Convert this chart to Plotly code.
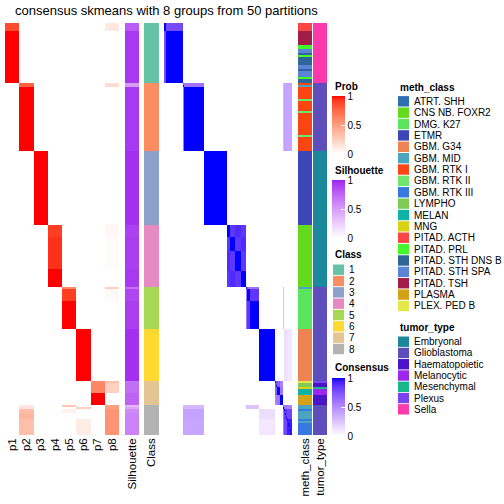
import numpy as np
import plotly.graph_objects as go

TITLE = "consensus skmeans with 8 groups from 50 partitions"
PROB_COLS = ["p1", "p2", "p3", "p4", "p5", "p6", "p7", "p8"]
CLASS_LEVELS = ["1", "2", "3", "4", "5", "6", "7", "8"]
CLASS_COLORS = ["#66C2A5", "#FC8D62", "#8DA0CB", "#E78AC3", "#A6D854", "#FFD92F", "#E5C494", "#B3B3B3"]
METH_LEVELS = ["ATRT. SHH", "CNS NB. FOXR2", "DMG. K27", "ETMR", "GBM. G34", "GBM. MID", "GBM. RTK I",
               "GBM. RTK II", "GBM. RTK III", "LYMPHO", "MELAN", "MNG", "PITAD. ACTH", "PITAD. PRL",
               "PITAD. STH DNS B", "PITAD. STH SPA", "PITAD. TSH", "PLASMA", "PLEX. PED B"]
METH_COLORS = ["#2E6EB4", "#63DB1C", "#5BE55E", "#3C46B9", "#EE8354", "#4BA5BE", "#FB4514",
               "#6EE66B", "#3779E0", "#7FCB55", "#0FB3A5", "#DAD216", "#FC4646", "#43F72B",
               "#31659A", "#5A84D8", "#A21E48", "#D4A217", "#E4E84B"]
TUMOR_LEVELS = ["Embryonal", "Glioblastoma", "Haematopoietic", "Melanocytic", "Mesenchymal", "Plexus", "Sella"]
TUMOR_COLORS = ["#1C889C", "#5D4EBB", "#4A14C8", "#9B27EE", "#18B88A", "#7B44F0", "#FC3AAB"]

# (number of samples, class, membership probabilities p1..p8, silhouette)
SAMPLE_SEGMENTS = [
    (4, 1, [0.85, 0, 0, 0, 0, 0, 0, 0.12], 0.80),
    (26, 1, [1, 0, 0, 0, 0, 0, 0, 0], 0.93),
    (2, 2, [0, 0.78, 0, 0, 0, 0, 0, 0.18], 0.50),
    (32, 2, [0, 1, 0, 0, 0, 0, 0, 0], 0.93),
    (37, 3, [0, 0, 1, 0, 0, 0, 0, 0], 0.96),
    (6, 4, [0, 0, 0, 0.90, 0, 0, 0, 0.04], 0.90),
    (16, 4, [0, 0, 0, 0.93, 0, 0, 0, 0.02], 0.91),
    (9, 4, [0, 0, 0, 1, 0, 0, 0, 0], 0.93),
    (1, 5, [0, 0, 0, 0, 0.60, 0, 0, 0.25], 0.70),
    (6, 5, [0, 0, 0, 0, 0.90, 0, 0, 0.03], 0.88),
    (14, 5, [0, 0, 0, 0, 1, 0, 0, 0], 0.91),
    (26, 6, [0, 0, 0, 0, 0, 1, 0, 0], 0.96),
    (1, 7, [0, 0, 0, 0, 0, 0, 0.60, 0.32], 0.68),
    (5, 7, [0, 0, 0, 0, 0, 0, 0.62, 0.25], 0.72),
    (6, 7, [0, 0, 0, 0, 0, 0, 1, 0], 0.76),
    (1, 8, [0, 0.12, 0, 0, 0.30, 0, 0, 0.50], 0.35),
    (1, 8, [0, 0.15, 0, 0, 0, 0.25, 0, 0.50], 0.45),
    (2, 8, [0, 0.35, 0, 0, 0.06, 0, 0, 0.55], 0.58),
    (3, 8, [0, 0.38, 0, 0, 0, 0, 0, 0.55], 0.62),
    (8, 8, [0, 0.33, 0, 0, 0, 0.10, 0, 0.55], 0.62),
]

METH_RUNS = [
    ("PITAD. ACTH", 4), ("PITAD. TSH", 7), ("PITAD. PRL", 2), ("PITAD. STH SPA", 2), ("PITAD. STH DNS B", 1),
    ("PITAD. PRL", 1), ("PITAD. STH DNS B", 4), ("PITAD. STH SPA", 2), ("PITAD. STH DNS B", 1),
    ("PITAD. STH SPA", 3), ("PITAD. PRL", 1), ("PITAD. STH DNS B", 2),
    ("GBM. RTK I", 1), ("GBM. MID", 1), ("GBM. RTK I", 6), ("GBM. RTK II", 1), ("GBM. RTK I", 5),
    ("GBM. RTK II", 1), ("GBM. RTK I", 11), ("GBM. RTK II", 1), ("GBM. RTK I", 7),
    ("ETMR", 37),
    ("CNS NB. FOXR2", 31),
    ("GBM. MID", 1), ("DMG. K27", 20),
    ("GBM. G34", 26),
    ("PLEX. PED B", 1), ("LYMPHO", 2), ("MNG", 1), ("MELAN", 3), ("PLASMA", 5),
    ("GBM. MID", 2), ("GBM. RTK III", 1), ("GBM. MID", 4), ("GBM. RTK III", 1), ("GBM. MID", 1),
    ("GBM. RTK III", 6),
]

TUMOR_RUNS = [
    ("Sella", 30), ("Glioblastoma", 34), ("Embryonal", 68), ("Glioblastoma", 47),
    ("Plexus", 1), ("Haematopoietic", 2), ("Mesenchymal", 1), ("Melanocytic", 3),
    ("Haematopoietic", 5), ("Glioblastoma", 15),
]

# consensus matrix described by sample groups (in row order) and block values
CONS_GROUP_SIZES = [4, 26, 2, 32, 37, 6, 7, 10, 8, 1, 6, 14, 26, 3, 4, 5, 2, 5, 8]
CONS_DIAG = [1, 1, 0.7, 1, 1, 1, 1, 1, 1, 1, 1, 1, 1, 0.75, 1, 1, 0.7, 0.85, 0.95]
CONS_PAIRS = [
    (0, 1, 0.78), (2, 3, 0.6),
    (5, 6, 0.86), (5, 7, 0.9), (5, 8, 0.86), (6, 7, 0.86), (6, 8, 0.9), (7, 8, 0.86),
    (9, 10, 0.6), (9, 11, 0.6), (10, 11, 0.86),
    (13, 14, 0.7), (13, 15, 0.55), (14, 15, 0.6),
    (16, 17, 0.6), (16, 18, 0.55), (17, 18, 0.8),
    (2, 16, 0.3), (2, 17, 0.4), (2, 18, 0.4), (3, 16, 0.3), (3, 17, 0.4), (3, 18, 0.38),
    (9, 16, 0.3), (10, 16, 0.25), (11, 16, 0.25),
    (12, 17, 0.14), (12, 18, 0.1),
]

# ---------------- build per-sample arrays ----------------
probs, sils, classes = [], [], []
for n, c, p, s in SAMPLE_SEGMENTS:
    for _ in range(n):
        probs.append(p)
        sils.append([s])
        classes.append([c - 1])
N = len(probs)
meth = []
for lab, n in METH_RUNS:
    meth += [[METH_LEVELS.index(lab)]] * n
tumor = []
for lab, n in TUMOR_RUNS:
    tumor += [[TUMOR_LEVELS.index(lab)]] * n

starts = np.cumsum([0] + CONS_GROUP_SIZES)
cons = np.zeros((N, N))
for g in range(len(CONS_GROUP_SIZES)):
    cons[starts[g]:starts[g + 1], starts[g]:starts[g + 1]] = CONS_DIAG[g]
for a, b, v in CONS_PAIRS:
    cons[starts[a]:starts[a + 1], starts[b]:starts[b + 1]] = v
    cons[starts[b]:starts[b + 1], starts[a]:starts[a + 1]] = v
np.fill_diagonal(cons, 1)


# ---------------- colour helpers (LAB interpolation like ComplexHeatmap) ----------------
def _hex(h):
    return [int(h[i:i + 2], 16) / 255 for i in (1, 3, 5)]


def _to_lab(h):
    rgb = [c / 12.92 if c <= 0.04045 else ((c + 0.055) / 1.055) ** 2.4 for c in _hex(h)]
    M = [[0.4124, 0.3576, 0.1805], [0.2126, 0.7152, 0.0722], [0.0193, 0.1192, 0.9505]]
    X, Y, Z = [sum(M[i][j] * rgb[j] for j in range(3)) for i in range(3)]
    X, Z = X / 0.95047, Z / 1.08883
    f = lambda t: t ** (1 / 3) if t > (6 / 29) ** 3 else t / (3 * (6 / 29) ** 2) + 4 / 29
    fx, fy, fz = f(X), f(Y), f(Z)
    return 116 * fy - 16, 500 * (fx - fy), 200 * (fy - fz)


def _from_lab(L, a, b):
    fy = (L + 16) / 116
    fx, fz = fy + a / 500, fy - b / 200
    finv = lambda t: t ** 3 if t > 6 / 29 else 3 * (6 / 29) ** 2 * (t - 4 / 29)
    X, Y, Z = finv(fx) * 0.95047, finv(fy), finv(fz) * 1.08883
    Mi = [[3.2406, -1.5372, -0.4986], [-0.9689, 1.8758, 0.0415], [0.0557, -0.2040, 1.0570]]
    out = []
    for i in range(3):
        c = Mi[i][0] * X + Mi[i][1] * Y + Mi[i][2] * Z
        c = 12.92 * c if c <= 0.0031308 else 1.055 * max(c, 0) ** (1 / 2.4) - 0.055
        out.append(int(round(min(max(c, 0), 1) * 255)))
    return "rgb(%d,%d,%d)" % tuple(out)


def lab_scale(c0, c1, n=21):
    l0, l1 = _to_lab(c0), _to_lab(c1)
    sc = []
    for t in np.linspace(0, 1, n):
        sc.append([float(t), _from_lab(*[l0[k] + (l1[k] - l0[k]) * t for k in range(3)])])
    return sc


def discrete_scale(colors):
    n = len(colors)
    sc = []
    for i, c in enumerate(colors):
        sc.append([i / n, c])
        sc.append([(i + 1) / n, c])
    return sc


W = H = 504
FONT = "Liberation Sans, Arial, Helvetica, sans-serif"
px = lambda x: x / W
py = lambda y: 1 - y / H


def cbar(top, length=58):
    return dict(x=px(332), xanchor="left", y=py(top), yanchor="top", len=length, lenmode="pixels",
                thickness=13, thicknessmode="pixels", xpad=0, ypad=0, outlinewidth=0,
                tickvals=[0, 0.5, 1], ticktext=["0", "0.5", "1"], ticks="inside", ticklen=4,
                tickcolor="white", tickwidth=1, tickfont=dict(size=10, color="black", family=FONT))


rows = list(range(N))
fig = go.Figure()
fig.add_trace(go.Heatmap(z=probs, x=PROB_COLS, y=rows, xaxis="x", yaxis="y", zmin=0, zmax=1,
                         colorscale=lab_scale("#FFFFFF", "#FF0000"), colorbar=cbar(96), hoverinfo="skip"))
fig.add_trace(go.Heatmap(z=sils, x=["Silhouette"], y=rows, xaxis="x2", yaxis="y", zmin=0, zmax=1,
                         colorscale=lab_scale("#FFFFFF", "#A020F0"), colorbar=cbar(180), hoverinfo="skip"))
fig.add_trace(go.Heatmap(z=classes, x=["Class"], y=rows, xaxis="x3", yaxis="y", zmin=-0.5,
                         zmax=len(CLASS_COLORS) - 0.5, colorscale=discrete_scale(CLASS_COLORS),
                         showscale=False, hoverinfo="skip"))
fig.add_trace(go.Heatmap(z=cons, x=rows, y=rows, xaxis="x4", yaxis="y", zmin=0, zmax=1,
                         colorscale=lab_scale("#FFFFFF", "#0000FF"), colorbar=cbar(378), hoverinfo="skip"))
fig.add_trace(go.Heatmap(z=meth, x=["meth_class"], y=rows, xaxis="x5", yaxis="y", zmin=-0.5,
                         zmax=len(METH_COLORS) - 0.5, colorscale=discrete_scale(METH_COLORS),
                         showscale=False, hoverinfo="skip"))
fig.add_trace(go.Heatmap(z=tumor, x=["tumor_type"], y=rows, xaxis="x6", yaxis="y", zmin=-0.5,
                         zmax=len(TUMOR_COLORS) - 0.5, colorscale=discrete_scale(TUMOR_COLORS),
                         showscale=False, hoverinfo="skip"))

xdomains = [(5, 119), (125, 139), (144, 159), (164, 292), (298, 312), (313, 327)]
layout = dict(width=W, height=H, margin=dict(l=0, r=0, t=0, b=0), paper_bgcolor="white",
              plot_bgcolor="white", font=dict(family=FONT, color="black"))
for i, (a, b) in enumerate(xdomains):
    key = "xaxis" if i == 0 else "xaxis%d" % (i + 1)
    layout[key] = dict(domain=[px(a), px(b)], anchor="y", showgrid=False, zeroline=False, showline=False,
                       ticks="", tickangle=-90, tickfont=dict(size=11.5, family=FONT),
                       showticklabels=(i != 3), fixedrange=True)
layout["xaxis4"]["range"] = [-0.5, N - 0.5]
layout["yaxis"] = dict(domain=[py(435), py(23)], range=[N - 0.5, -0.5], showgrid=False, zeroline=False,
                       showticklabels=False, ticks="", fixedrange=True)
fig.update_layout(**layout)

ann = [dict(text=TITLE, x=px(166), y=py(10), xref="paper", yref="paper", showarrow=False,
            font=dict(size=13, family=FONT), xanchor="center", yanchor="middle")]
for t, x, y in [("Prob", 333, 86), ("Silhouette", 333, 170), ("Class", 333, 254), ("Consensus", 333, 367),
                ("meth_class", 398, 87), ("tumor_type", 398, 327)]:
    ann.append(dict(text="<b>%s</b>" % t, x=px(x), y=py(y), xref="paper", yref="paper", showarrow=False,
                    xanchor="left", yanchor="middle", font=dict(size=10, family=FONT)))

shapes = []
for levels, colors, x0, y0, step in [(CLASS_LEVELS, CLASS_COLORS, 333, 269.7, 11.33),
                                     (METH_LEVELS, METH_COLORS, 398, 101.3, 11.37),
                                     (TUMOR_LEVELS, TUMOR_COLORS, 398, 341.7, 11.27)]:
    for i, (lab, col) in enumerate(zip(levels, colors)):
        yc = y0 + i * step
        shapes.append(dict(type="rect", xref="paper", yref="paper", x0=px(x0), x1=px(x0 + 11),
                           y0=py(yc - 5.2), y1=py(yc + 5.2), fillcolor=col, line=dict(width=0)))
        ann.append(dict(text=lab, x=px(x0 + 14), y=py(yc), xref="paper", yref="paper", showarrow=False,
                        xanchor="left", yanchor="middle", font=dict(size=10, family=FONT)))
fig.update_layout(annotations=ann, shapes=shapes)
fig.write_html("out.html", config={"displayModeBar": False},
               post_script="document.body.style.margin='0px';document.body.style.padding='0px';")
